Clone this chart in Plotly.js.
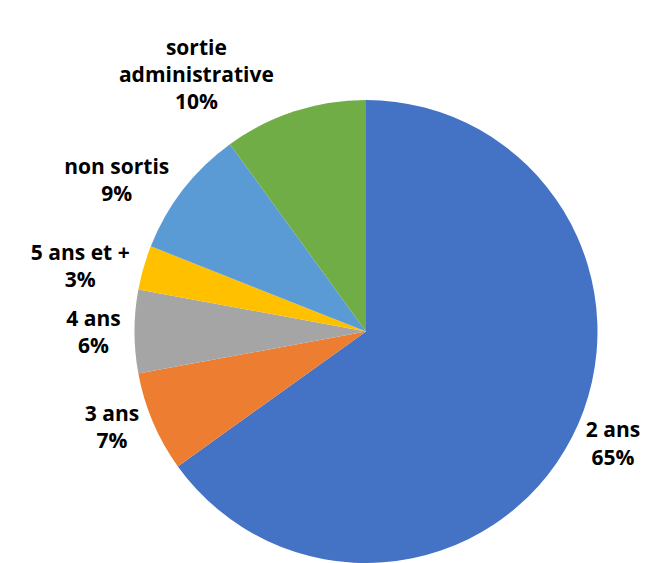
<!DOCTYPE html>
<html>
<head>
<meta charset="utf-8">
<script src="https://cdn.plot.ly/plotly-3.0.1.min.js"></script>
<style>html,body{margin:0;padding:0;background:#fff;}#chart{width:651px;height:563px;}</style>
</head>
<body>
<div id="chart"></div>
<script>
const categories = ["2 ans", "3 ans", "4 ans", "5 ans et +", "non sortis", "sortie administrative"];
const labelsShown = ["2 ans", "3 ans", "4 ans", "5 ans et +", "non sortis", "sortie<br>administrative"];
const values = [65.1, 7.0, 5.8, 3.1, 9.0, 10.0];
const colors = ["#4472C4", "#ED7D31", "#A5A5A5", "#FFC000", "#5B9BD5", "#70AD47"];

const trace = {
  type: "pie",
  labels: categories,
  values: values,
  customdata: labelsShown,
  sort: false,
  direction: "clockwise",
  rotation: 0,
  marker: { colors: colors, line: { color: "#ffffff", width: 0 } },
  textposition: "outside",
  texttemplate: "%{customdata}<br>%{percent:.0%}",
  hoverinfo: "label+percent",
  outsidetextfont: { family: "'Open Sans', 'Liberation Sans', sans-serif", size: 21, color: "#000000", weight: "bold" },
  showlegend: false
};

const layout = {
  width: 651,
  height: 563,
  margin: { l: 134, r: 53, t: 100, b: 0 },
  paper_bgcolor: "#ffffff",
  plot_bgcolor: "#ffffff",
  font: { family: "'Open Sans', 'Liberation Sans', sans-serif", size: 21, color: "#000000", weight: "bold" },
  showlegend: false
};

Plotly.newPlot("chart", [trace], layout, { displayModeBar: false, staticPlot: true });
</script>
</body>
</html>
